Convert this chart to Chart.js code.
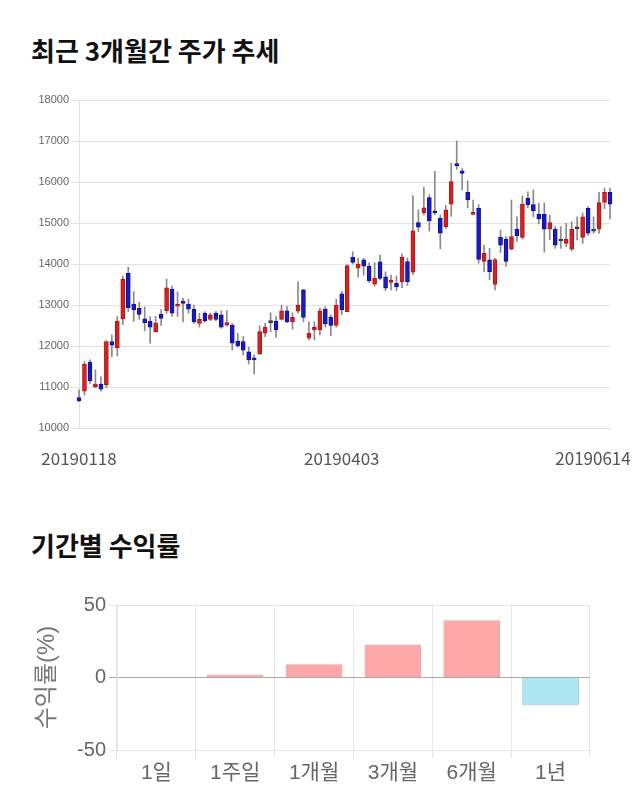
<!DOCTYPE html>
<html><head><meta charset="utf-8">
<script src="https://cdn.jsdelivr.net/npm/chart.js@4/dist/chart.umd.min.js"></script>
<style>
html,body{margin:0;padding:0;background:#fff;}
body{width:640px;height:810px;position:relative;overflow:hidden;font-family:'Noto Sans CJK KR',sans-serif;}
.title{position:absolute;left:31px;font-weight:bold;font-size:26px;color:#111;line-height:1;white-space:nowrap;}
#t1{top:37px;}
#t2{top:532px;}
#c1{position:absolute;left:0;top:85px;}
#c2{position:absolute;left:0;top:585px;}
</style></head><body>
<div class="title" id="t1">최근 3개월간 주가 추세</div>
<div class="title" id="t2">기간별 수익률</div>
<canvas id="c1" width="640" height="395"></canvas>
<canvas id="c2" width="640" height="225"></canvas>
<script>
const dates = ['20190118','20190121','20190122','20190123','20190124','20190125','20190128','20190129','20190130','20190131',
'20190207','20190208','20190211','20190212','20190213','20190214','20190215','20190218','20190219','20190220','20190221','20190222','20190225','20190226','20190227','20190228',
'20190304','20190305','20190306','20190307','20190308','20190311','20190312','20190313','20190314','20190315','20190318','20190319','20190320','20190321','20190322','20190325','20190326','20190327','20190328','20190329',
'20190401','20190402','20190403','20190404','20190405','20190408','20190409','20190410','20190411','20190412','20190415','20190416','20190417','20190418','20190419','20190422','20190423','20190424','20190425','20190426','20190429','20190430',
'20190502','20190503','20190507','20190508','20190509','20190510','20190513','20190514','20190515','20190516','20190517','20190520','20190521','20190522','20190523','20190524','20190527','20190528','20190529','20190530','20190531',
'20190603','20190604','20190605','20190607','20190610','20190611','20190612','20190613','20190614'];
const tickLabels = ['20190118','20190403','20190614'];
const opens = [10740,10900,11610,11010,11070,11050,12110,11960,12660,13770,
13020,12920,12660,12600,12350,12770,12860,13380,12970,13060,
13020,12900,12550,12800,12650,12800,12760,12510,12510,12120,
12110,11860,11700,11800,12310,12570,12610,12650,12860,12590,
12850,13370,12190,12390,12390,12900,12700,12500,13270,12840,
14160,13900,14100,13950,13510,14050,13690,13550,13530,13560,
14060,13800,15010,15250,15620,15260,15120,14910,15460,16410,
16270,15750,15210,15360,14060,14100,13500,14650,14610,14360,
14850,14650,15600,15450,15210,15210,14850,14850,14560,14500,
14360,14860,14650,15360,14800,14850,15500,15750];
const highs = [10930,11620,11660,11420,11250,12130,12270,12720,13710,13920,
13330,13070,12950,12720,12720,12890,13630,13460,13320,13160,
13140,13000,12800,12840,12800,12840,12860,12860,12550,12310,
12230,11970,11780,12490,12550,12810,12720,13000,12960,12810,
13570,13380,12590,12590,12920,12960,12760,13140,13330,13980,
14300,14140,14140,14030,14030,14220,13810,13730,13710,14250,
14150,15670,15320,15870,15690,16260,15200,15430,16460,17000,
16330,16030,15560,15450,14460,14380,14140,14830,14670,15560,
15150,15660,15760,15810,15480,15490,15190,14910,14910,14990,
15030,15150,15240,15400,15150,15750,15850,15850];
const lows = [10640,10800,11090,10980,10900,10980,11740,11760,12520,12840,
12600,12650,12370,12070,12340,12500,12800,12720,12720,12590,
12800,12550,12460,12580,12620,12620,12430,12490,11900,11970,
11780,11560,11320,11800,12230,12350,12210,12630,12570,12410,
12800,12590,12150,12150,12270,12460,12250,12460,12760,12840,
14000,13680,13730,13550,13460,13610,13350,13370,13350,13420,
13480,13740,14790,15200,14800,15200,14370,14860,15160,16310,
15810,15370,15200,14020,13810,13620,13370,14280,13940,14340,
14550,14610,15370,15150,14980,14290,14590,14380,14380,14420,
14320,14590,14500,14700,14750,14750,15350,15100];
const closes = [10660,11560,11150,11070,10950,12110,12020,12610,13630,12930,
12880,12770,12570,12460,12560,12670,13420,12800,13010,13040,
12900,12590,12650,12610,12760,12650,12460,12570,12070,12000,
11900,11660,11660,12350,12460,12570,12390,12860,12590,12700,
13000,12700,12310,12460,12860,12540,12500,13000,12880,13960,
14040,14000,13950,13590,13650,13650,13410,13610,13450,14160,
13570,14810,14900,15370,15050,15250,14750,15320,16010,16400,
16210,15560,15250,14110,14260,13810,14110,14460,14060,14670,
14690,15460,15440,15300,15100,14850,15010,14460,14560,14600,
14850,14860,15150,14750,14800,15500,15750,15460];

const periods = ['1일','1주일','1개월','3개월','6개월','1년'];
const returns = [0, 2.0, 9.1, 22.7, 39.5, -19.3];

const UP = '#d42222', UPB = '#b01515', DN = '#1a1ac6', DNB = '#0e0e9a', EQ = '#333333';
const bodyData = opens.map((o,i)=>[Math.min(o,closes[i]), Math.max(o,closes[i])]);
const wickData = lows.map((l,i)=>[l, highs[i]]);
const bodyColors = opens.map((o,i)=> closes[i]>o ? UP : (closes[i]<o ? DN : EQ));
const bodyBorders = opens.map((o,i)=> closes[i]>o ? UPB : (closes[i]<o ? DNB : EQ));

new Chart(document.getElementById('c1'), {
  type:'bar',
  data:{labels:dates, datasets:[
    {data:bodyData, backgroundColor:bodyColors, borderColor:bodyBorders, borderWidth:1, borderSkipped:false,
     barThickness:4, grouped:false, order:0, minBarLength:2, clip:false},
    {data:wickData, backgroundColor:'#8a8a8a', barThickness:1, grouped:false, order:1, clip:false}
  ]},
  options:{
    responsive:false, animation:false, events:[],
    plugins:{legend:{display:false}, tooltip:{enabled:false}},
    layout:{padding:{left:35,right:30,top:15,bottom:0}},
    scales:{
      x:{offset:false, grid:{display:false, drawTicks:false}, border:{display:true,color:'#dedede'},
         ticks:{autoSkip:false, maxRotation:0, minRotation:0, padding:20, color:'#555',
           font:{size:17, family:"'Noto Sans CJK KR', sans-serif"},
           callback:function(v,i){ const d=dates[i]; if(!tickLabels.includes(d)) return ''; return i===dates.length-1 ? d+'\u2003\u2003' : d; }},
         afterFit:function(s){ s.height=52; s.paddingLeft=0; s.paddingRight=0; }},
      y:{min:10000, max:18000, ticks:{stepSize:1000, color:'#666', padding:2, font:{size:11, family:"'Liberation Sans', sans-serif"},
           callback:function(v){ return String(v); }},
         grid:{color:'#e2e2e2', tickLength:8}, border:{color:'#e2e2e2'},
         afterFit:function(s){ s.width=44; }}
    }
  }
});

new Chart(document.getElementById('c2'), {
  type:'bar',
  data:{labels:periods, datasets:[{
    data:returns,
    backgroundColor:returns.map(v=> v>=0 ? 'rgba(255,80,80,0.5)' : 'rgba(90,208,232,0.5)'),
    borderColor:returns.map(v=> v>=0 ? 'rgba(215,140,140,0.8)' : 'rgba(140,195,205,0.8)'),
    borderWidth:1
  }]},
  options:{
    responsive:false, animation:false, events:[],
    plugins:{legend:{display:false}, tooltip:{enabled:false}},
    layout:{padding:{left:29,right:50,top:20,bottom:0}},
    scales:{
      x:{grid:{color:'#e6e6e6', offset:true, tickLength:8}, border:{color:'#e6e6e6'},
         ticks:{color:'#666', padding:3, font:{size:21, family:"'Liberation Sans','Noto Sans CJK KR', sans-serif"}},
         afterFit:function(s){ s.height=60; }},
      y:{min:-50, max:50, ticks:{stepSize:50, color:'#666', padding:3, font:{size:20, family:"'Liberation Sans','Noto Sans CJK KR', sans-serif"}},
         grid:{color:function(c){ return c.tick && c.tick.value===0 ? '#a8a8a8' : '#e6e6e6'; }, tickLength:8},
         border:{color:'#e6e6e6'},
         title:{display:true, text:'수익률(%)', color:'#777', font:{size:24, family:"'Liberation Sans','Noto Sans CJK KR', sans-serif"}},
         afterFit:function(s){ s.width=88; }}
    }
  }
});
</script>
</body></html>
